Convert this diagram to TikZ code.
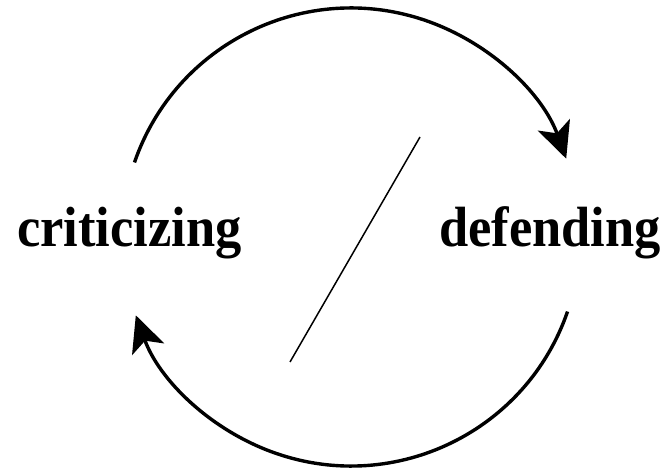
\documentclass[tikz,border=0pt]{standalone}
\usepackage{fontspec}
\setmainfont{Liberation Serif}
\usetikzlibrary{arrows.meta,calc}
\begin{document}
\begin{tikzpicture}[x=1pt,y=1pt,
  label/.style={inner sep=0pt,anchor=base west,font=\fontsize{52.5}{60}\selectfont\bfseries,yscale=1.08},
  cyc/.style={line width=3.4pt,-{Stealth[length=36pt,width=34pt,inset=9pt]}},
  slash/.style={line width=1.5pt}]
\useasboundingbox (0,0) rectangle (668,468);
\node[label,transform shape] (crit) at (17,221) {criticizing};
\node[label,transform shape] (def) at (439,221) {defending};
\coordinate (ctr) at (351,231);
\coordinate (topstart) at ($(ctr)+(161:229)$);
\coordinate (botstart) at ($(ctr)+(-19:229)$);
\coordinate (s1) at (420,331);
\coordinate (s2) at (290,106);
\draw[cyc] (topstart) arc[start angle=161,end angle=20,radius=229];
\draw[cyc] (botstart) arc[start angle=-19,end angle=-160,radius=229];
\draw[slash] (s1) -- (s2);
\end{tikzpicture}
\end{document}
